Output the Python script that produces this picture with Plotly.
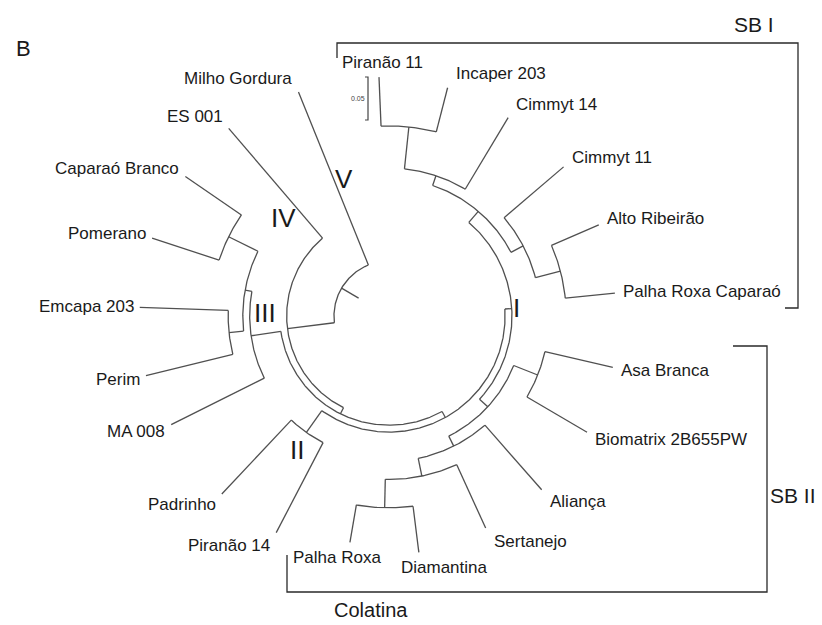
import numpy as np
import plotly.graph_objects as go

# ---------------- data ----------------
LEAF_NAMES = ["Piranão 11", "Incaper 203", "Cimmyt 14", "Cimmyt 11", "Alto Ribeirão",
              "Palha Roxa Caparaó", "Asa Branca", "Biomatrix 2B655PW", "Aliança", "Sertanejo",
              "Diamantina", "Palha Roxa", "Piranão 14", "Padrinho", "MA 008", "Perim",
              "Emcapa 203", "Pomerano", "Caparaó Branco", "ES 001", "Milho Gordura"]
# angular position of each leaf (degrees, clockwise from 12 o'clock)
LEAF_ANGLE = [-2.4, 14.4, 31.0, 49.5, 66.5, 84.2, 102.9, 120.4, 138.7, 155.5,
              172.8, 189.8, 207.5, 223.2, 243.5, 256.2, 272.0, 288.2, 304.4, 319.5, 338.0]
# radial position of each leaf tip (tree distance units)
LEAF_RADIUS = [0.278, 0.274, 0.269, 0.267, 0.266, 0.264, 0.267, 0.267, 0.269, 0.271,
               0.277, 0.267, 0.284, 0.284, 0.283, 0.291, 0.290, 0.290, 0.287, 0.287, 0.281]

# internal nodes: name, children, radial position
NODE_NAMES = ["A", "B", "D", "C", "E", "H", "K", "L", "M2", "G", "F", "II",
              "S", "PC", "EP", "Q", "M", "N", "X", "ROOT"]
NODE_CHILDREN = [("Piranão 11", "Incaper 203"), ("A", "Cimmyt 14"),
                 ("Alto Ribeirão", "Palha Roxa Caparaó"), ("Cimmyt 11", "D"), ("B", "C"),
                 ("Asa Branca", "Biomatrix 2B655PW"), ("Diamantina", "Palha Roxa"),
                 ("Sertanejo", "K"), ("Aliança", "L"), ("H", "M2"), ("E", "G"),
                 ("Piranão 14", "Padrinho"), ("F", "II"), ("Pomerano", "Caparaó Branco"),
                 ("Perim", "Emcapa 203"), ("EP", "PC"), ("MA 008", "Q"), ("S", "M"),
                 ("N", "ES 001"), ("X", "Milho Gordura")]
NODE_RADIUS = [0.221, 0.172, 0.206, 0.176, 0.160, 0.186, 0.223, 0.190, 0.169, 0.156,
               0.143, 0.166, 0.135, 0.208, 0.187, 0.170, 0.162, 0.127, 0.119, 0.064]

CLUSTER_LABELS = ["I", "II", "III", "IV", "V"]
GROUP_LABELS = ["SB I", "SB II"]
REGION_LABEL = "Colatina"
PANEL_LABEL = "B"
SCALE_BAR = 0.05

# ---------------- geometry ----------------
W, H = 822, 625
K = 860.0              # pixels per tree unit
CX, CY = 389.0, 316.0  # tree centre in pixels


def p2d(px, py):
    return (px - CX) / K, (CY - py) / K


def pol(r, a):
    t = np.radians(a)
    return r * np.sin(t), r * np.cos(t)


ang = dict(zip(LEAF_NAMES, LEAF_ANGLE))
rad = dict(zip(LEAF_NAMES, LEAF_RADIUS))
for n, (c1, c2), r in zip(NODE_NAMES, NODE_CHILDREN, NODE_RADIUS):
    ang[n] = (ang[c1] + ang[c2]) / 2.0
    rad[n] = r

xs, ys = [], []
for n, (c1, c2) in zip(NODE_NAMES, NODE_CHILDREN):
    r = rad[n]
    a0, a1 = sorted([ang[c1], ang[c2]])
    aa = np.linspace(a0, a1, max(4, int((a1 - a0) * 2)))
    x, y = pol(r, aa)
    xs += list(x) + [None]
    ys += list(y) + [None]
    for c in (c1, c2):
        xa, ya = pol(np.array([r, rad[c]]), ang[c])
        xs += list(xa) + [None]
        ys += list(ya) + [None]
# root tick
xa, ya = pol(np.array([rad["ROOT"], rad["ROOT"] - 0.023]), ang["ROOT"])
xs += list(xa) + [None]
ys += list(ya) + [None]

fig = go.Figure()
fig.add_trace(go.Scatter(x=xs, y=ys, mode="lines", hoverinfo="skip",
                         line=dict(color="#505050", width=1.3)))

FONT = "Liberation Sans, Arial, sans-serif"
ann = []
for name, a, r in zip(LEAF_NAMES, LEAF_ANGLE, LEAF_RADIUS):
    s, c = np.sin(np.radians(a)), np.cos(np.radians(a))
    tx, ty = CX + r * K * s, CY - r * K * c
    f = float(np.clip(0.40 - 1.4 * s, 0, 1))
    w = 0.55 * 17 * len(name)
    ly = ty - 15 * c
    if f < 0.1:
        lx, xa_ = tx + 6, "left"
    elif f > 0.9:
        lx, xa_ = tx - 4, "right"
    else:
        lx, xa_ = tx + (0.5 - f) * w, "center"
    x, y = p2d(lx, ly)
    ann.append(dict(x=x, y=y, text=name, xanchor=xa_, yanchor="middle", showarrow=False,
                    font=dict(family=FONT, size=17, color="#1a1a1a")))

cl_pos = [(516, 308), (297, 450), (265, 313), (283, 218), (344, 179)]
for t, (px, py) in zip(CLUSTER_LABELS, cl_pos):
    x, y = p2d(px, py)
    ann.append(dict(x=x, y=y, text=t, showarrow=False, xanchor="center", yanchor="middle",
                    font=dict(family=FONT, size=26, color="#1a1a1a")))

for t, (px, py), sz, xan in [(PANEL_LABEL, (14, 48), 22, "left"),
                             (GROUP_LABELS[0], (776, 24), 21, "right"),
                             (GROUP_LABELS[1], (818, 495), 21, "right"),
                             (REGION_LABEL, (371, 610), 20, "center")]:
    x, y = p2d(px, py)
    ann.append(dict(x=x, y=y, text=t, showarrow=False, xanchor=xan, yanchor="middle",
                    font=dict(family=FONT, size=sz, color="#1a1a1a")))

# scale bar
sb_x, sb_y0 = p2d(368, 120)
x, y = p2d(358, 98)
ann.append(dict(x=x, y=y, text=str(SCALE_BAR), showarrow=False, xanchor="center",
                yanchor="middle", font=dict(family=FONT, size=7, color="#444444")))

shapes = []


def path_px(pts, color="#2a2a2a", width=1.3):
    d = []
    for i, (px, py) in enumerate(pts):
        x, y = p2d(px, py)
        d.append(("M" if i == 0 else "L") + f"{x:.5f},{y:.5f}")
    shapes.append(dict(type="path", path=" ".join(d), line=dict(color=color, width=width)))


path_px([(337, 58), (337, 43), (798, 43), (798, 308), (785, 308)])
path_px([(733, 346), (767, 346), (767, 592), (287, 592), (287, 555)])

tick = 3 / K
d = (f"M{sb_x - tick:.5f},{sb_y0:.5f} L{sb_x:.5f},{sb_y0:.5f} "
     f"L{sb_x:.5f},{sb_y0 + SCALE_BAR:.5f} L{sb_x - tick:.5f},{sb_y0 + SCALE_BAR:.5f}")
shapes.append(dict(type="path", path=d, line=dict(color="#444444", width=1.2)))

x0, y1 = p2d(0, 0)
x1, y0 = p2d(W, H)
fig.update_layout(
    width=W, height=H, margin=dict(l=0, r=0, t=0, b=0),
    paper_bgcolor="white", plot_bgcolor="white", showlegend=False,
    xaxis=dict(range=[x0, x1], visible=False, fixedrange=True),
    yaxis=dict(range=[y0, y1], visible=False, fixedrange=True),
    annotations=ann, shapes=shapes,
)
fig.write_html("out.html", config={"displayModeBar": False},
               post_script="document.body.style.margin='0px';")
